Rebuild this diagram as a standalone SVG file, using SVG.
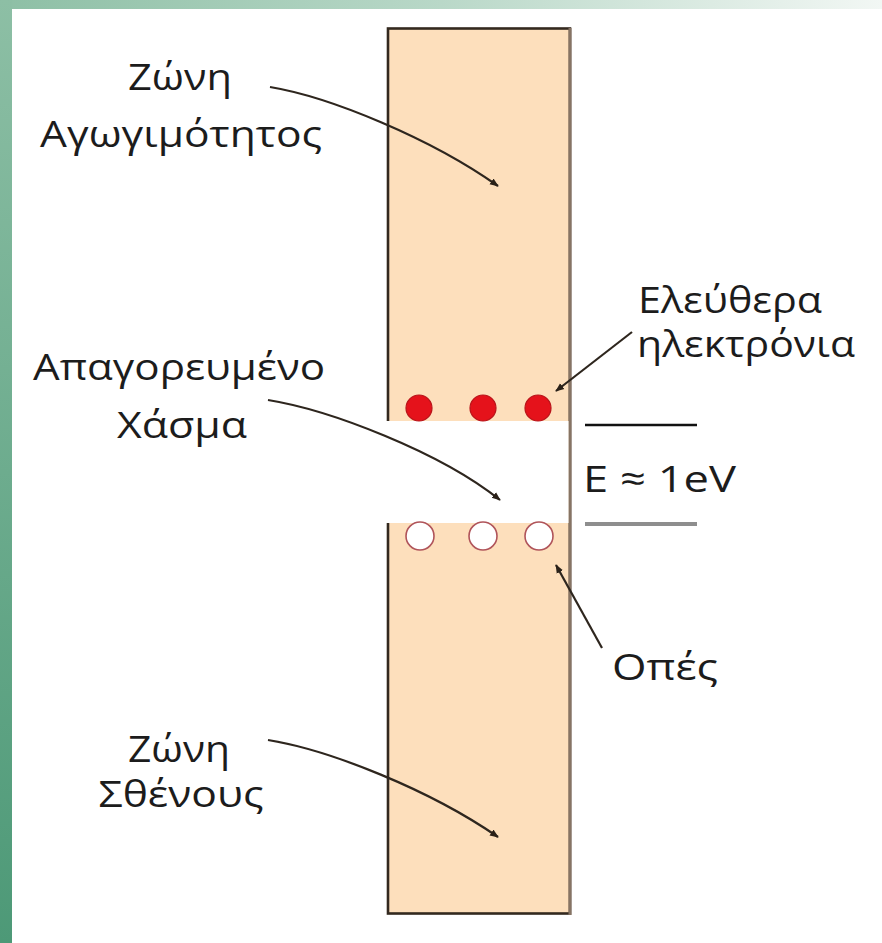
<svg xmlns="http://www.w3.org/2000/svg" width="882" height="943" viewBox="0 0 882 943">
  <defs>
    <linearGradient id="gTop" x1="0" y1="0" x2="1" y2="0">
      <stop offset="0" stop-color="#8dbfa5"/>
      <stop offset="0.5" stop-color="#b9d8c8"/>
      <stop offset="1" stop-color="#f2f7f4"/>
    </linearGradient>
    <linearGradient id="gLeft" x1="0" y1="0" x2="0" y2="1">
      <stop offset="0" stop-color="#8dbfa5"/>
      <stop offset="1" stop-color="#4d9977"/>
    </linearGradient>
    <marker id="arr" viewBox="0 0 10 10" refX="9" refY="5" markerWidth="4" markerHeight="4" orient="auto" markerUnits="strokeWidth">
      <path d="M0,1 L10,5 L0,9 Z" fill="#2a2118"/>
    </marker>
    <style>
      .lbl { font-family: "Open Sans", "Noto Sans", "DejaVu Sans", sans-serif; font-size: 37px; fill: #1c1c1c; text-anchor: middle; }
      .con { fill: none; stroke: #2e261e; stroke-width: 2.2; marker-end: url(#arr); }
      .dot { fill: #e5121b; stroke: #b8141a; stroke-width: 1.2; }
      .hole { fill: #ffffff; stroke: #b0545a; stroke-width: 1.6; }
    </style>
  </defs>

  <rect x="0" y="0" width="882" height="943" fill="#ffffff"/>
  <rect x="0" y="0" width="882" height="9" fill="url(#gTop)"/>
  <rect x="0" y="0" width="12" height="943" fill="url(#gLeft)"/>

  <g id="band">
    <rect x="388" y="28.5" width="182" height="885" fill="#fddfbc" stroke="#33291f" stroke-width="2.6"/>
    <line x1="570" y1="28" x2="570" y2="915" stroke="#877464" stroke-width="3"/>
    <rect x="385" y="421" width="183.5" height="102" fill="#ffffff"/>
  </g>

  <g id="electrons">
    <circle class="dot" cx="419" cy="408" r="13"/>
    <circle class="dot" cx="483" cy="408" r="13"/>
    <circle class="dot" cx="538" cy="408" r="13"/>
  </g>

  <g id="holes">
    <circle class="hole" cx="420" cy="536" r="14"/>
    <circle class="hole" cx="483" cy="536" r="14"/>
    <circle class="hole" cx="539" cy="536" r="14"/>
  </g>

  <g id="energy">
    <line x1="585" y1="425" x2="697" y2="425" stroke="#111111" stroke-width="2.5"/>
    <line x1="585" y1="524" x2="697" y2="524" stroke="#8e8e8e" stroke-width="4"/>
    <text class="lbl" x="583" y="492" textLength="153" lengthAdjust="spacingAndGlyphs" style="text-anchor:start">E ≈ 1eV</text>
  </g>

  <g id="connectors">
    <path class="con" d="M270,87 C330,97 430,138 498,186"/>
    <path class="con" d="M268,400 C330,410 440,452 500,500"/>
    <path class="con" d="M632,332 L556,391"/>
    <path class="con" d="M602,648 L556,565"/>
    <path class="con" d="M268,740 C330,750 430,790 498,837"/>
  </g>

  <g id="label-conduction">
    <text class="lbl" x="180" y="90" textLength="104" lengthAdjust="spacingAndGlyphs">Ζώνη</text>
    <text class="lbl" x="181" y="147" textLength="282" lengthAdjust="spacingAndGlyphs">Αγωγιμότητος</text>
  </g>
  <g id="label-gap">
    <text class="lbl" x="179" y="380" textLength="292" lengthAdjust="spacingAndGlyphs">Απαγορευμένο</text>
    <text class="lbl" x="182" y="438" textLength="130" lengthAdjust="spacingAndGlyphs">Χάσμα</text>
  </g>
  <g id="label-electrons">
    <text class="lbl" x="730" y="313" textLength="184" lengthAdjust="spacingAndGlyphs">Ελεύθερα</text>
    <text class="lbl" x="746" y="357" textLength="218" lengthAdjust="spacingAndGlyphs">ηλεκτρόνια</text>
  </g>
  <g id="label-holes">
    <text class="lbl" x="665" y="680" textLength="106" lengthAdjust="spacingAndGlyphs">Οπές</text>
  </g>
  <g id="label-valence">
    <text class="lbl" x="179" y="762" textLength="102" lengthAdjust="spacingAndGlyphs">Ζώνη</text>
    <text class="lbl" x="181" y="807" textLength="165" lengthAdjust="spacingAndGlyphs">Σθένους</text>
  </g>
</svg>
